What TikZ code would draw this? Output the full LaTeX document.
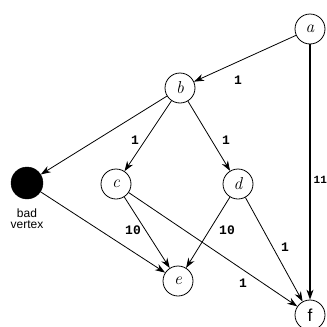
\documentclass[tikz,border=0pt]{standalone}
\usepackage{fontspec}
\setsansfont{Liberation Sans}
\setmonofont{Liberation Mono}
\usetikzlibrary{arrows.meta}
\begin{document}
\begin{tikzpicture}[x=1pt,y=-1pt,
  vert/.style={circle,draw,line width=0.8pt,minimum size=30pt,inner sep=0pt,font=\LARGE\itshape},
  badv/.style={circle,fill=black,draw,minimum size=32pt,inner sep=0pt},
  edge/.style={draw,line width=0.8pt,-{Stealth[length=10pt,width=7pt]}},
  wt/.style={font=\bfseries\fontsize{13}{14}\selectfont\ttfamily,inner sep=1pt}]
\useasboundingbox (0,0) rectangle (327,327);
\node[vert] (a) at (310,29) {a};
\node[vert] (b) at (180,88) {b};
\node[vert] (c) at (116,184) {c};
\node[vert] (d) at (238,184) {d};
\node[badv] (bad) at (27,183) {};
\node[vert] (e) at (178,281) {e};
\node[vert,font=\LARGE\sffamily] (f) at (310,315) {f};
\node[font=\sffamily\large,align=center,inner sep=0pt] (badlbl) at (27,219) {bad\\[-3pt]vertex};
\draw[edge] (a) -- (b);
\draw[edge,line width=1.2pt] (a) -- (f);
\draw[edge] (b) -- (bad);
\draw[edge] (b) -- (c);
\draw[edge] (b) -- (d);
\draw[edge] (bad) -- (e);
\draw[edge] (c) -- (e);
\draw[edge] (c) -- (f);
\draw[edge] (d) -- (e);
\draw[edge] (d) -- (f);
\node[wt] (w1) at (238,80) {1};
\node[wt] (w2) at (135,140) {1};
\node[wt] (w3) at (226,140) {1};
\node[wt,font=\bfseries\fontsize{11}{12}\selectfont\ttfamily,anchor=west,inner sep=0pt] (w4) at (313.5,180) {11};
\node[wt] (w5) at (133,230) {10};
\node[wt] (w6) at (227,230) {10};
\node[wt] (w7) at (285,247) {1};
\node[wt] (w8) at (243,283) {1};
\end{tikzpicture}
\end{document}
